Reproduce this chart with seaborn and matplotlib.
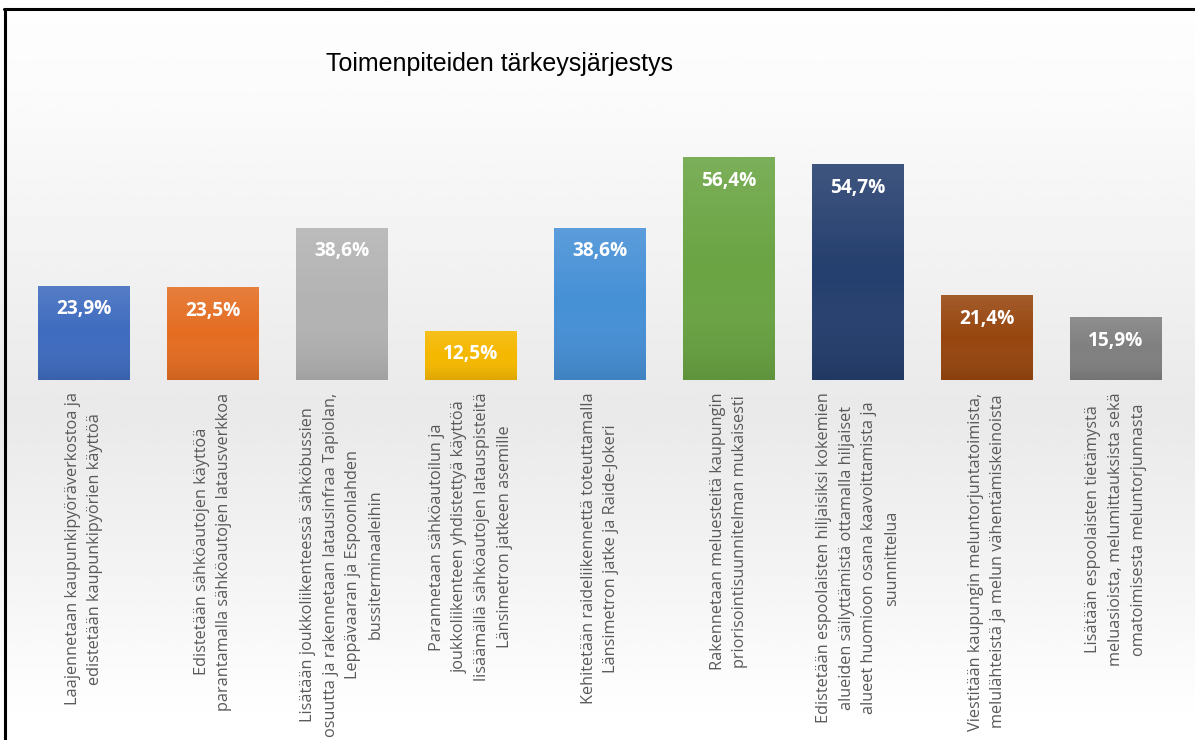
import numpy as np
import pandas as pd
import seaborn as sns
import matplotlib.pyplot as plt
from matplotlib.lines import Line2D
from matplotlib.colors import LinearSegmentedColormap

# data
measures = [
    "Laajennetaan kaupunkipyöräverkostoa ja\nedistetään kaupunkipyörien käyttöä",
    "Edistetään sähköautojen käyttöä\nparantamalla sähköautojen latausverkkoa",
    "Lisätään joukkoliikenteessä sähköbussien\nosuutta ja rakennetaan latausinfraa Tapiolan,\nLeppävaaran ja Espoonlahden\nbussiterminaaleihin",
    "Parannetaan sähköautoilun ja\njoukkoliikenteen yhdistettyä käyttöä\nlisäämällä sähköautojen latauspisteitä\nLänsimetron jatkeen asemille",
    "Kehitetään raideliikennettä toteuttamalla\nLänsimetron jatke ja Raide-Jokeri",
    "Rakennetaan meluesteitä kaupungin\npriorisointisuunnitelman mukaisesti",
    "Edistetään espoolaisten hiljaisiksi kokemien\nalueiden säilyttämistä ottamalla hiljaiset\nalueet huomioon osana kaavoittamista ja\nsuunnittelua",
    "Viestitään kaupungin meluntorjuntatoimista,\nmelulähteistä ja melun vähentämiskeinoista",
    "Lisätään espoolaisten tietämystä\nmeluasioista, melumittauksista sekä\nomatoimisesta meluntorjunnasta",
]
shares = [23.9, 23.5, 38.6, 12.5, 38.6, 56.4, 54.7, 21.4, 15.9]
bar_colors = ["#3f6cbf", "#e46d22", "#b3b3b3", "#f5b800", "#4690d6",
              "#6aa443", "#253f6e", "#97460f", "#808080"]


def main():
    sns.set_style("white")
    plt.rcParams['font.family'] = ['Open Sans', 'DejaVu Sans']

    df = pd.DataFrame({"measure": measures, "share": shares})

    fig = plt.figure(figsize=(11.95, 7.4), dpi=100)

    # soft grey band behind the bars, fading to white
    bg = fig.add_axes([0, 0, 1, 1], zorder=-2)
    yy = np.linspace(0, 1, 400)  # 0 = top, 1 = bottom
    shade = np.interp(yy, [0, 0.12, 0.52, 0.56, 0.75, 0.95, 1.0],
                      [0.995, 0.985, 0.92, 0.915, 0.95, 0.995, 1.0])
    bg.imshow(np.tile(shade[:, None], (1, 2)), cmap="gray", vmin=0, vmax=1,
              aspect="auto", extent=[0, 1, 0, 1], interpolation="bilinear")
    bg.axis("off")

    ax = fig.add_axes([0.0163, 0.4865, 0.9716, 0.3736])
    ax.set_facecolor("none")
    sns.barplot(data=df, x="measure", y="share", hue="measure",
                palette=bar_colors, legend=False, width=0.713,
                saturation=1, linewidth=0, ax=ax)

    ax.set_xlim(-0.5, len(measures) - 0.5)
    ax.set_ylim(0, 70)

    # light-to-dark sheen over each bar
    sheen = LinearSegmentedColormap.from_list(
        "sheen", [(1, 1, 1, 0.12), (1, 1, 1, 0.0), (0, 0, 0, 0.10)])
    grad = np.linspace(0, 1, 100)[:, None]
    for patch in ax.patches:
        x0, y0 = patch.get_x(), patch.get_y()
        w, h = patch.get_width(), patch.get_height()
        im = ax.imshow(grad, cmap=sheen, aspect="auto",
                       extent=[x0, x0 + w, y0, y0 + h], origin="upper",
                       zorder=patch.get_zorder() + 0.1)
        im.set_clip_path(patch)
    ax.set_xlim(-0.5, len(measures) - 0.5)
    ax.set_ylim(0, 70)

    ax.set_xlabel("")
    ax.set_ylabel("")
    ax.set_yticks([])
    sns.despine(ax=ax, left=True, top=True, right=True, bottom=True)

    ax.tick_params(axis="x", length=0, pad=9)
    ax.set_xticks(range(len(measures)))
    ax.set_xticklabels(measures, rotation=90, ha="center", va="top",
                       multialignment="center", fontsize=11.7,
                       color="#595959", linespacing=1.55)

    for i, v in enumerate(shares):
        ax.annotate(f"{v:.1f}%".replace(".", ","), xy=(i, v),
                    xytext=(0, -17), textcoords="offset points",
                    ha="center", va="center", color="white",
                    fontsize=13.8, fontweight="bold", zorder=5)

    fig.text(0.418, 0.914, "Toimenpiteiden tärkeysjärjestys",
             ha="center", va="center", fontsize=18,
             family=["Liberation Sans", "DejaVu Sans"], color="black")

    # frame lines at the top and left edge
    fig.add_artist(Line2D([0.003, 1.0], [0.988, 0.988], color="black", lw=2.2))
    fig.add_artist(Line2D([0.0045, 0.0045], [0.0, 0.988], color="black", lw=2.2))

    fig.savefig("out.png", dpi=100)


if __name__ == "__main__":
    main()
